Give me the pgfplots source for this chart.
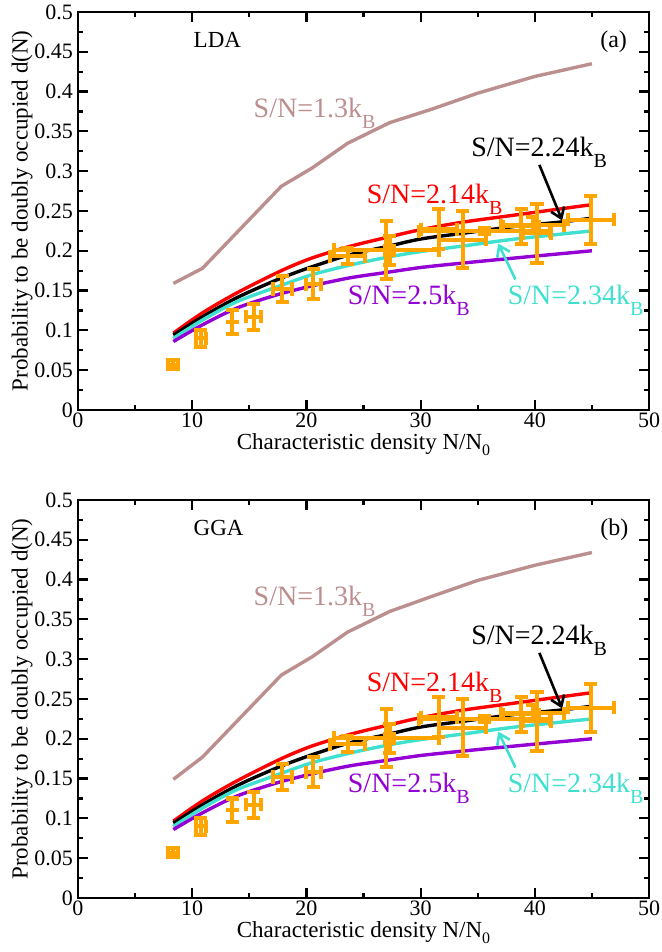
\documentclass[border=0pt]{standalone}
\usepackage{fontspec}
\setmainfont{Liberation Serif}
\usepackage{pgfplots}
\usepackage{pgfplotstable}
\pgfplotsset{compat=1.18}
\usetikzlibrary{arrows.meta}
\definecolor{rosy}{RGB}{188,143,143}
\definecolor{turq}{RGB}{64,224,208}
\definecolor{violetc}{RGB}{148,0,211}
\definecolor{orng}{RGB}{255,165,0}

\pgfplotstableread{
x y
8.35 0.0965
10.9 0.122
13.9 0.147
17.8 0.175
20.5 0.191
23.8 0.2055
27.1 0.217
30.0 0.2265
33.7 0.236
38.3 0.245
45.0 0.258
}\redT
\pgfplotstableread{
x y
8.35 0.094
10.9 0.117
13.9 0.141
17.5 0.164
20.5 0.180
23.8 0.195
27.1 0.2055
30.0 0.2148
33.7 0.222
38.3 0.2307
42.2 0.236
45.0 0.241
}\blackT
\pgfplotstableread{
x y
8.35 0.090
10.9 0.113
13.9 0.136
17.5 0.155
20.5 0.170
23.8 0.182
27.1 0.192
30.0 0.199
33.7 0.206
38.3 0.2148
45.0 0.225
}\cyanT
\pgfplotstableread{
x y
8.35 0.086
10.9 0.107
13.9 0.128
17.5 0.145
20.5 0.156
23.8 0.166
27.1 0.173
30.0 0.179
33.7 0.1846
38.3 0.191
45.0 0.200
}\purpleT
\pgfplotstableread{
x y
8.35 0.159
10.9 0.178
17.8 0.281
20.5 0.304
23.6 0.335
27.3 0.361
31.0 0.378
35.0 0.398
40.0 0.419
45.0 0.435
}\brownA
\pgfplotstableread{
x y
8.35 0.149
10.9 0.177
17.8 0.280
20.5 0.303
23.6 0.334
27.3 0.360
31.0 0.379
35.0 0.399
40.0 0.418
45.0 0.434
}\brownB
\pgfplotstableread{
x y ex ey
8.3 0.057 0.45 0.006
10.75 0.090 0.45 0.011
13.5 0.110 0 0.015
15.4 0.117 0.65 0.016
17.9 0.152 0.8 0.016
20.6 0.158 0.65 0.019
23.6 0.193 1.5 0.010
27.0 0.201 4.6 0.037
27.3 0.200 0.4 0.018
31.6 0.227 1.6 0.025
33.7 0.214 2.05 0.036
35.6 0.2245 5.7 0.004
38.8 0.231 1.6 0.022
39.8 0.232 2.8 0.010
40.2 0.222 1.2 0.037
44.9 0.239 2.0 0.030
}\expT

\pgfplotsset{
  myaxis/.style={
    scale only axis, width=285.5pt, height=199pt,
    xmin=0, xmax=50, ymin=0, ymax=0.5,
    xtick={0,10,20,30,40,50}, minor x tick num=1,
    ytick={0,0.05,0.1,0.15,0.2,0.25,0.3,0.35,0.4,0.45,0.5},
    yticklabels={0,0.05,0.1,0.15,0.2,0.25,0.3,0.35,0.4,0.45,0.5},
    minor y tick num=1,
    tick align=inside, major tick length=5pt, minor tick length=2.5pt,
    axis line style={line width=1.3pt},
    every tick/.style={line width=1.1pt, black},
    tick label style={font=\fontsize{11}{11}\selectfont},
    xticklabel style={yshift=2pt},
    yticklabel style={xshift=1pt},
    /pgf/number format/assume math mode=true,
    xlabel={Characteristic density N/N\raisebox{-3pt}{\fontsize{8}{8}\selectfont 0}},
    ylabel={Probability to be doubly occupied d(N)},
    label style={font=\fontsize{11.5}{11.5}\selectfont},
    xlabel style={at={(axis description cs:0.5,-0.088)}, anchor=center},
    ylabel style={at={(axis description cs:-0.098,0.5)}, anchor=center},
    clip=false,
  },
  curve/.style={line width=1.7pt, no markers, smooth},
  expdata/.style={orng, only marks, mark=square*, mark size=0.8pt,
    error bars/.cd, x dir=both, x explicit, y dir=both, y explicit,
    error bar style={line width=2pt, orng},
    error mark options={rotate=90, mark size=3.3pt, line width=2pt, orng}},
}
\newcommand{\ann}[1]{\fontsize{14}{14}\selectfont S/N=#1k\raisebox{-5.5pt}{\fontsize{10}{10}\selectfont B}}

\begin{document}
\begin{tikzpicture}
% panel (a)
\begin{axis}[myaxis, name=a, at={(0,244pt)}, anchor=south west]
\addplot[rosy, line width=1.7pt, no markers] table[x=x,y=y] {\brownA};
\addplot[red, curve] table[x=x,y=y] {\redT};
\addplot[black, curve] table[x=x,y=y] {\blackT};
\addplot[turq, curve] table[x=x,y=y] {\cyanT};
\addplot[violetc, curve] table[x=x,y=y] {\purpleT};
\draw[-{Straight Barb[length=5pt,width=7pt]}, line width=1.3pt, black] (axis cs:40.4,0.308) -- (axis cs:42.4,0.238);
\draw[-{Straight Barb[length=5pt,width=7pt]}, line width=1.3pt, turq] (axis cs:38.3,0.164) -- (axis cs:36.8,0.209);
\addplot[expdata] table[x=x,y=y,x error=ex,y error=ey] {\expT};
\node[anchor=base west, rosy, inner sep=0] at (axis cs:15.35,0.367) {\ann{1.3}};
\node[anchor=base west, red, inner sep=0] at (axis cs:25.25,0.259) {\ann{2.14}};
\node[anchor=base west, black, inner sep=0] at (axis cs:34.4,0.318) {\ann{2.24}};
\node[anchor=base west, violetc, inner sep=0] at (axis cs:23.6,0.132) {\ann{2.5}};
\node[anchor=base west, turq, inner sep=0] at (axis cs:37.6,0.132) {\ann{2.34}};
\node[anchor=base west, inner sep=0] at (axis cs:10.1,0.456) {\fontsize{11.5}{11.5}\selectfont LDA};
\node[anchor=base west, inner sep=0] at (axis cs:45.7,0.455) {\fontsize{12}{12}\selectfont (a)};
\end{axis}
% panel (b)
\begin{axis}[myaxis, name=b, at={(0,0)}, anchor=south west]
\addplot[rosy, line width=1.7pt, no markers] table[x=x,y=y] {\brownB};
\addplot[red, curve] table[x=x,y=y] {\redT};
\addplot[black, curve] table[x=x,y=y] {\blackT};
\addplot[turq, curve] table[x=x,y=y] {\cyanT};
\addplot[violetc, curve] table[x=x,y=y] {\purpleT};
\draw[-{Straight Barb[length=5pt,width=7pt]}, line width=1.3pt, black] (axis cs:40.4,0.308) -- (axis cs:42.4,0.238);
\draw[-{Straight Barb[length=5pt,width=7pt]}, line width=1.3pt, turq] (axis cs:38.3,0.164) -- (axis cs:36.8,0.209);
\addplot[expdata] table[x=x,y=y,x error=ex,y error=ey] {\expT};
\node[anchor=base west, rosy, inner sep=0] at (axis cs:15.35,0.367) {\ann{1.3}};
\node[anchor=base west, red, inner sep=0] at (axis cs:25.25,0.259) {\ann{2.14}};
\node[anchor=base west, black, inner sep=0] at (axis cs:34.4,0.318) {\ann{2.24}};
\node[anchor=base west, violetc, inner sep=0] at (axis cs:23.6,0.132) {\ann{2.5}};
\node[anchor=base west, turq, inner sep=0] at (axis cs:37.6,0.132) {\ann{2.34}};
\node[anchor=base west, inner sep=0] at (axis cs:10.1,0.456) {\fontsize{11.5}{11.5}\selectfont GGA};
\node[anchor=base west, inner sep=0] at (axis cs:45.7,0.455) {\fontsize{12}{12}\selectfont (b)};
\end{axis}
\pgfresetboundingbox
\path (-39pt,-27pt) rectangle (291.5pt,449pt);
\end{tikzpicture}
\end{document}
